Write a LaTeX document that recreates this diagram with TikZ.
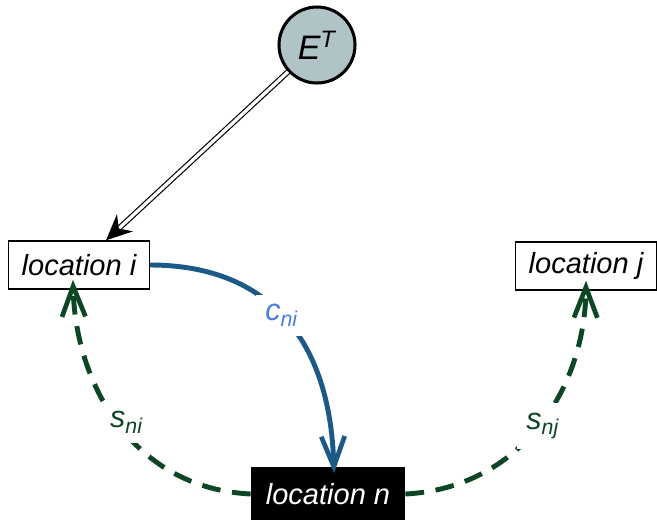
\documentclass[tikz,border=0pt]{standalone}
\usepackage{fontspec}
\setmainfont{Liberation Sans}
\usetikzlibrary{arrows.meta, positioning, calc}

\definecolor{stategray}{RGB}{176,196,200}
\definecolor{costblue}{RGB}{27,90,135}
\definecolor{costlabel}{RGB}{74,125,224}
\definecolor{supplygreen}{RGB}{13,70,36}

\begin{document}
\begin{tikzpicture}[x=0.015cm, y=-0.015cm,
    location/.style={rectangle, draw, line width=0.6pt, minimum width=2.115cm, minimum height=0.72cm, text centered, font=\fontsize{12.4}{14}\selectfont\itshape},
    state/.style={circle, draw, line width=1.3pt, fill=stategray, minimum size=1.14cm, font=\fontsize{14.5}{16}\selectfont\itshape},
    cost/.style={-{Straight Barb[length=13pt, width=10pt, line width=2pt]}, line width=2.1pt, color=costblue},
    supply/.style={-{Straight Barb[length=13pt, width=10pt, line width=2pt]}, line width=2.1pt, color=supplygreen, dash pattern=on 8pt off 5pt},
    flowlabel/.style={fill=white, inner sep=4pt, font=\fontsize{13}{15}\selectfont\itshape}
]
    \useasboundingbox (0,0) rectangle (657,519);

    % Nodes
    \node[state] (et) at (317,45) {E\textsuperscript{T}};
    \node[location] (li) at (79,265) {location i};
    \node[location] (lj) at (586,266) {location j};
    \node[location, fill=black, text=white, minimum width=2.3cm, minimum height=0.78cm] (ln) at (328,494) {location n};

    % Arrows
    \draw[-{Stealth[length=11pt, width=10pt]}, double, double distance=1.4pt, line width=0.5pt]
        (et) -- ($(li.north)+(27,0)$);
    \draw[cost] (li.east) .. controls (260,265) and (330,330) ..
        node[flowlabel, text=costlabel, pos=0.5] {c\textsubscript{ni}} ($(ln.north)+(6,6)$);
    \draw[supply] (ln.west) .. controls (130,488) and (75,380) ..
        node[flowlabel, text=supplygreen, pos=0.5, xshift=4pt] {s\textsubscript{ni}} ($(li.south)+(-6,-10)$);
    \draw[supply] (ln.east) .. controls (520,488) and (585,390) ..
        node[flowlabel, text=supplygreen, pos=0.5, xshift=2pt] {s\textsubscript{nj}} ($(lj.south)+(0,-10)$);
\end{tikzpicture}
\end{document}
